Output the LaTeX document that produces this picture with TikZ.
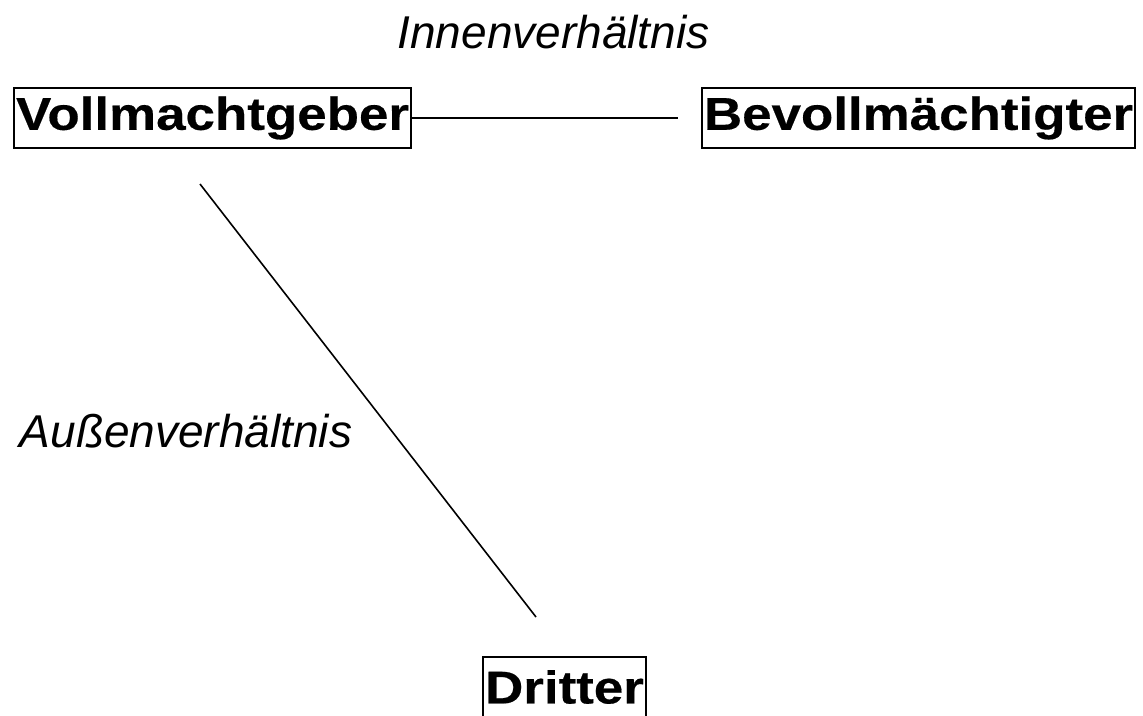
\documentclass[tikz,border=0pt]{standalone}
\usepackage{fontspec}
\setmainfont{Liberation Sans}
\newfontfamily\parteifont{Liberation Sans}[FakeStretch=1.15,FakeBold=0.4]
\usetikzlibrary{positioning}

\begin{document}
\begin{tikzpicture}[
    x=0.75pt, y=-0.75pt,
    partei/.style={
        rectangle,
        draw=black,
        line width=1.5pt,
        inner xsep=1.5pt,
        inner ysep=0pt,
        minimum height=45pt,
        font=\parteifont\bfseries\fontsize{34.5}{40}\selectfont
    },
    verbindung/.style={
        line width=1.2pt,
        draw=black
    },
    verhaeltnis/.style={
        font=\itshape\fontsize{34.5}{40}\selectfont,
        anchor=base,
        inner sep=0pt
    }
]
\useasboundingbox (0,0) rectangle (1143,715);

% Parteien
\node[partei] (geber) at (212.5,118) {Vollmachtgeber};
\node[partei, right=216.75pt of geber] (bevollm) {Bevollmächtigter};
\node[partei] (dritter) at (564.5,687) {Dritter};

% Verbindungen
\draw[verbindung] (geber.east) -- ([xshift=-17pt]bevollm.west);
\draw[verbindung] ([shift={(-12.5,35)}]geber.south) -- ([shift={(-28.5,-39)}]dritter.north);

% Beschriftungen
\node[verhaeltnis] (innen) at (553.5,48) {Innenverhältnis};
\node[verhaeltnis] (aussen) at (186,447) {Außenverhältnis};

\end{tikzpicture}
\end{document}
